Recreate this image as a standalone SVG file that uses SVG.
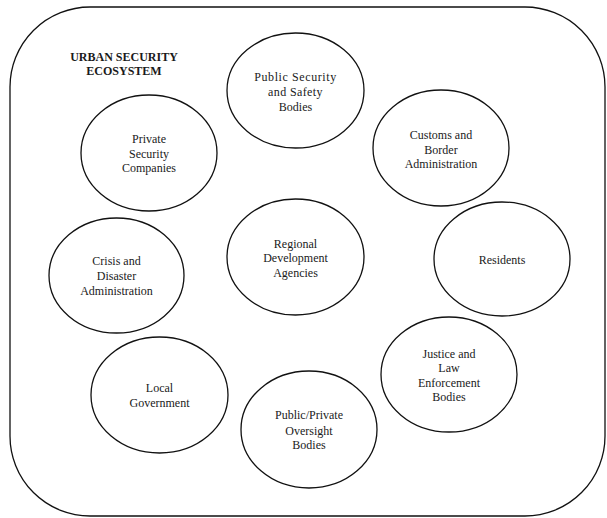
<svg xmlns="http://www.w3.org/2000/svg" width="607" height="518" viewBox="0 0 607 518">
<style>
.n{fill:#fff;stroke:#111;stroke-width:1.3}
.t{font-family:"Liberation Serif","Times New Roman",serif;font-size:12px;fill:#1a1a1a;text-anchor:middle}
.h{font-weight:bold}
</style>
<rect x="0" y="0" width="607" height="518" fill="#fff"/>
<g id="ecosystem">
<rect x="10" y="7" width="595" height="509" rx="80" ry="80" fill="#fff" stroke="#111" stroke-width="1.3"/>
<text class="t h" x="124" y="61">URBAN SECURITY</text>
<text class="t h" x="124" y="75">ECOSYSTEM</text>
</g>
<g id="connectors"></g>
<g id="public-security">
<ellipse class="n" cx="295.5" cy="90.5" rx="68.5" ry="57.5"/>
<text class="t" x="295.5" y="81" letter-spacing="0.6">Public Security</text>
<text class="t" x="295.5" y="96" letter-spacing="0.4">and Safety</text>
<text class="t" x="295.5" y="111">Bodies</text>
</g>
<g id="private-security">
<ellipse class="n" cx="149" cy="153" rx="68" ry="58"/>
<text class="t" x="149" y="143">Private</text>
<text class="t" x="149" y="158">Security</text>
<text class="t" x="149" y="172">Companies</text>
</g>
<g id="customs">
<ellipse class="n" cx="441" cy="148" rx="68" ry="58"/>
<text class="t" x="441" y="139">Customs and</text>
<text class="t" x="441" y="154">Border</text>
<text class="t" x="441" y="168">Administration</text>
</g>
<g id="regional">
<ellipse class="n" cx="295.5" cy="257" rx="68.5" ry="58"/>
<text class="t" x="295.5" y="248">Regional</text>
<text class="t" x="295.5" y="262">Development</text>
<text class="t" x="295.5" y="277">Agencies</text>
</g>
<g id="residents">
<ellipse class="n" cx="502" cy="259" rx="68" ry="57"/>
<text class="t" x="502" y="264">Residents</text>
</g>
<g id="crisis">
<ellipse class="n" cx="116.5" cy="275.5" rx="67.5" ry="57.5"/>
<text class="t" x="116.5" y="265">Crisis and</text>
<text class="t" x="116.5" y="280">Disaster</text>
<text class="t" x="116.5" y="295">Administration</text>
</g>
<g id="local-government">
<ellipse class="n" cx="159.5" cy="395" rx="68.5" ry="58"/>
<text class="t" x="159.5" y="392">Local</text>
<text class="t" x="159.5" y="407">Government</text>
</g>
<g id="oversight">
<ellipse class="n" cx="309" cy="429.5" rx="68" ry="58.5"/>
<text class="t" x="309" y="419">Public/Private</text>
<text class="t" x="309" y="435">Oversight</text>
<text class="t" x="309" y="449">Bodies</text>
</g>
<g id="justice">
<ellipse class="n" cx="449" cy="374.5" rx="68" ry="57.5"/>
<text class="t" x="449" y="358">Justice and</text>
<text class="t" x="449" y="372">Law</text>
<text class="t" x="449" y="387">Enforcement</text>
<text class="t" x="449" y="401">Bodies</text>
</g>
</svg>
